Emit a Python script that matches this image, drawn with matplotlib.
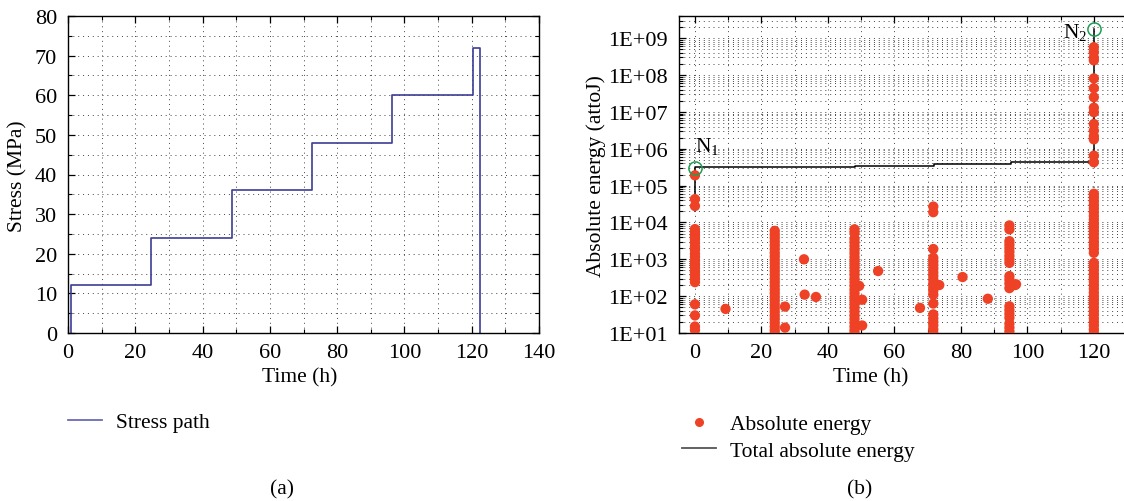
import numpy as np
import matplotlib
matplotlib.use("Agg")
import matplotlib.pyplot as plt
from matplotlib.ticker import MultipleLocator, LogLocator, FuncFormatter, NullFormatter
from matplotlib.lines import Line2D

plt.rcParams['font.family'] = ['Liberation Serif', 'DejaVu Serif']
plt.rcParams['mathtext.fontset'] = 'custom'
plt.rcParams['mathtext.rm'] = 'Liberation Serif'
plt.rcParams['mathtext.it'] = 'Liberation Serif:italic'

# (a) stress path
stress_time = [0.85, 0.85, 24.8, 24.8, 48.7, 48.7, 72.5, 72.5, 96.4, 96.4, 120.3, 120.3, 122.4, 122.4]
stress_mpa = [0, 12, 12, 24, 24, 36, 36, 48, 48, 60, 60, 72, 72, 0]

# (b) absolute energy hits (attoJ), grouped by time
t0_energy = [1.9e5, 4.3e4, 2.8e4, 6.6e3, 5.4e3, 4.4e3, 3.5e3, 2.8e3, 2.2e3, 1.8e3, 1.4e3,
             1.15e3, 900, 720, 580, 460, 370, 300, 240, 60, 30, 15, 12]
t24_energy = [5.9e3, 4.7e3, 3.8e3, 3.0e3, 2.4e3, 1.9e3, 1.5e3, 1.2e3, 950, 760, 600, 480,
              380, 300, 240, 190, 150, 120, 95, 76, 60, 48, 38, 30, 24, 19, 15, 12, 10]
t48_energy = [6.5e3, 5.2e3, 3.6e3, 2.9e3, 2.3e3, 1.8e3, 1.45e3, 1.15e3, 920, 740, 590, 470,
              380, 300, 240, 190, 150, 120, 95, 76, 60, 48, 38, 30, 24, 19, 15, 12, 10]
t72_energy = [2.7e4, 1.9e4, 1.9e3, 1.1e3, 880, 700, 560, 440, 350, 280, 220, 175, 140, 110,
              63, 32, 25, 20, 16, 12.5, 10]
t95_energy = [8.3e3, 6.5e3, 3.1e3, 2.5e3, 2.0e3, 1.6e3, 1.25e3, 1.0e3, 800, 350, 280, 220,
              165, 53, 42, 33, 26, 18, 14, 11]
t120_energy = [5.7e8, 4.2e8, 3.0e8, 2.5e8, 8.1e7, 4.4e7, 2.5e7, 1.3e7, 9.8e6, 4.7e6, 3.1e6,
               2.2e6, 1.8e6, 6.5e5, 4.3e5,
               6.0e4, 4.8e4, 3.8e4, 3.0e4, 2.4e4, 1.9e4, 1.5e4, 1.2e4, 9.5e3, 7.6e3, 6.0e3,
               4.8e3, 3.8e3, 3.0e3, 2.4e3, 1.9e3, 1.5e3,
               800, 640, 510, 400, 320, 250, 200, 160, 125, 100, 80, 64, 50, 40, 32, 25, 20,
               16, 12.5, 10]
cluster_times = [0, 24, 48, 71.7, 94.6, 120]
single_time = [9.2, 27.1, 27.1, 32.8, 33.0, 36.4, 49.4, 50.3, 50.3, 55.1, 67.7, 73.5, 80.5,
               88.1, 96.3, 96.6]
single_energy = [45, 52, 14, 1000, 110, 95, 190, 80, 16, 480, 48, 200, 330, 85, 200, 210]

# total absolute energy (cumulative staircase)
total_time = [0, 0, 24, 24, 48, 48, 72, 72, 95, 95, 120, 120]
total_energy = [4.5e4, 3.1e5, 3.1e5, 3.25e5, 3.25e5, 3.5e5, 3.5e5, 3.9e5, 3.9e5, 4.3e5, 4.3e5, 1.8e9]
n1 = (0, 3.0e5)
n2 = (120, 1.8e9)

W, H = 1124, 502
fig = plt.figure(figsize=(W / 100, H / 100), dpi=100)

def fx(x):
    return x / W

def fy(y):
    return 1 - y / H

grid_kw = dict(color='#444444', linewidth=0.7, linestyle=(0, (1, 4)))
FS = 15.5
RED = '#ee4125'

def style_axes(ax):
    ax.tick_params(which='both', direction='in', top=True, right=True, labelsize=16)
    ax.tick_params(axis='x', which='major', pad=7)
    ax.tick_params(axis='y', which='major', pad=8)
    ax.tick_params(which='major', length=5, width=0.9)
    ax.tick_params(which='minor', length=3, width=0.8)
    for s in ax.spines.values():
        s.set_linewidth(1.0)
    ax.grid(True, which='both', **grid_kw)
    ax.set_axisbelow(True)

# ---- (a)
ax1 = fig.add_axes([fx(68), fy(334), fx(471), 317 / H])
ax1.plot(stress_time, stress_mpa, color='#3c3c96', lw=1.2, label='Stress path')
ax1.set_xlim(0, 140)
ax1.set_ylim(0, 80)
ax1.xaxis.set_major_locator(MultipleLocator(20))
ax1.xaxis.set_minor_locator(MultipleLocator(10))
ax1.yaxis.set_major_locator(MultipleLocator(10))
ax1.yaxis.set_minor_locator(MultipleLocator(5))
style_axes(ax1)

# ---- (b)
ax2 = fig.add_axes([fx(679), fy(334), fx(478), 317 / H])
ax2.plot(total_time, total_energy, color='black', lw=1.1, zorder=3, label='Total absolute energy')
for t, e in zip(cluster_times, [t0_energy, t24_energy, t48_energy, t72_energy, t95_energy, t120_energy]):
    ax2.scatter(np.full(len(e), t), e, s=55, color=RED, edgecolors='none', zorder=4)
ax2.scatter(single_time, single_energy, s=55, color=RED, edgecolors='none', zorder=4)
ax2.plot(*n1, marker='o', ms=9.5, mfc='none', mec='#1f9e55', mew=1.1, zorder=5)
ax2.plot(*n2, marker='o', ms=9.5, mfc='none', mec='#1f9e55', mew=1.1, zorder=5)
ax2.annotate('N$_1$', xy=n1, xytext=(0, 9), textcoords='offset points', ha='left', va='bottom', fontsize=FS)
ax2.annotate('N$_2$', xy=n2, xytext=(-5, -2), textcoords='offset points', ha='right', va='center', fontsize=FS)
ax2.set_yscale('log')
ax2.set_xlim(-4.8, 139)
ax2.set_ylim(10, 4e9)
ax2.xaxis.set_major_locator(MultipleLocator(20))
ax2.xaxis.set_minor_locator(MultipleLocator(10))
ax2.yaxis.set_major_locator(LogLocator(base=10, numticks=20))
ax2.yaxis.set_minor_locator(LogLocator(base=10, subs=np.arange(2, 10), numticks=20))
ax2.yaxis.set_minor_formatter(NullFormatter())
ax2.yaxis.set_major_formatter(FuncFormatter(lambda v, p: '1E+%02d' % int(round(np.log10(v)))))
style_axes(ax2)

# axis titles
fig.text(fx(18), fy(176), 'Stress (MPa)', rotation=90, ha='center', va='center', fontsize=FS)
fig.text(fx(300), fy(378), 'Time (h)', ha='center', va='center', fontsize=FS)
fig.text(fx(596), fy(176), 'Absolute energy (attoJ)', rotation=90, ha='center', va='center', fontsize=FS)
fig.text(fx(871), fy(378), 'Time (h)', ha='center', va='center', fontsize=FS)
fig.text(fx(282), fy(490), '(a)', ha='center', va='center', fontsize=FS)
fig.text(fx(860), fy(490), '(b)', ha='center', va='center', fontsize=FS)

# legends
leg_kw = dict(frameon=False, fontsize=FS, borderpad=0, borderaxespad=0,
              handlelength=1.6, handletextpad=0.65, labelspacing=0.3)
fig.legend(handles=[Line2D([], [], color='#6a6ab4', lw=1.3)], labels=['Stress path'],
           loc='center left', bbox_to_anchor=(fx(68), fy(423)), **leg_kw)
h_dot = Line2D([], [], ls='none', marker='o', ms=6.5, color=RED, mec='none')
h_line = Line2D([], [], color='#555555', lw=1.3)
fig.legend(handles=[h_dot, h_line], labels=['Absolute energy', 'Total absolute energy'],
           loc='upper left', bbox_to_anchor=(fx(682), fy(415)), **leg_kw)

fig.savefig('out.png', dpi=100)
